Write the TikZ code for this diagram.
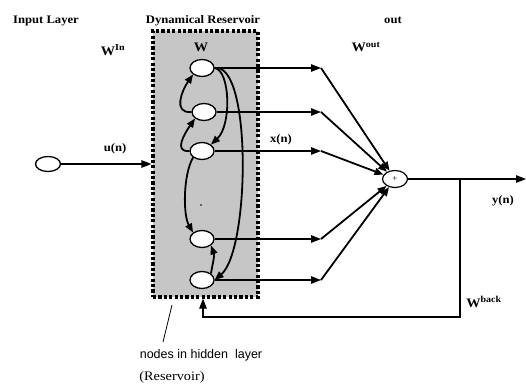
\documentclass[tikz,border=0pt]{standalone}
\usepackage{fontspec}
\setmainfont{Liberation Serif}
\newfontfamily\labfont[FakeStretch=1.1]{Liberation Serif}
\newfontfamily\sansfont{Liberation Sans}
\usetikzlibrary{arrows.meta,shapes.geometric}
\tikzset{
  lab/.style={font=\labfont\fontsize{11.5}{13}\selectfont\bfseries, inner sep=0pt},
  wlab/.style={font=\labfont\fontsize{13}{14}\selectfont\bfseries, inner sep=0pt},
  reservoirbox/.style={draw=black, fill=gray!45, line width=3.2pt, dash pattern=on 3.2pt off 2.2pt, minimum width=105pt, minimum height=266pt, inner sep=0pt},
  rnode/.style={ellipse, draw=black, fill=white, line width=1.3pt, minimum width=24pt, minimum height=17pt, inner sep=0pt},
  arr/.style={-{Triangle[length=10pt,width=7.5pt]}, line width=1.2pt},
  carr/.style={-{Triangle[length=9pt,width=7pt]}, line width=1.8pt},
  plain/.style={line width=1.2pt}
}
\begin{document}
\begin{tikzpicture}[x=1pt,y=-1pt]
\useasboundingbox (0,0) rectangle (526,383);
% reservoir box
\node[reservoirbox] (box) at (205.5,164) {};
% reservoir nodes
\node[rnode] (n1) at (202,68) {};
\node[rnode] (n2) at (204,112) {};
\node[rnode] (n3) at (202,151) {};
\node[rnode] (n4) at (202,239) {};
\node[rnode] (n5) at (202,280) {};
\fill (201,205) circle (0.9pt);
% input node
\node[ellipse, draw=black, line width=1.3pt, minimum width=25pt, minimum height=15pt, inner sep=0pt] (in) at (48,164) {};
\draw[arr] (in) -- (in -| box.west);
% output taps
\coordinate (o1) at (321,68);
\coordinate (o2) at (321,112);
\coordinate (o3) at (321,151);
\coordinate (o4) at (321,239);
\coordinate (o5) at (321,280);
\draw[arr] (n1.east) -- (o1);
\draw[arr] (n2.east) -- (o2);
\draw[arr] (n3.east) -- (o3);
\draw[arr] (n4.east) -- (o4);
\draw[arr] (n5.east) -- (o5);
% sum node
\node[ellipse, draw=black, line width=1.2pt, minimum width=25pt, minimum height=17pt, inner sep=0pt, font=\fontsize{9}{9}\selectfont] (sum) at (395,179) {+};
\draw[carr] (o1) -- (sum);
\draw[carr] (o2) -- (sum);
\draw[carr] (o3) -- (sum);
\draw[carr] (o4) -- (sum);
\draw[carr] (o5) -- (sum);
% output and feedback
\coordinate (yout) at (526,179);
\coordinate (br) at (460,179);
\coordinate (fbc) at (203,317);
\draw[arr] (sum) -- (yout);
\draw[arr] (br) |- (fbc) -- (fbc |- box.south);
% internal recurrent connections
\draw[carr] (n2.west) to[out=185,in=235,looseness=1.3] (n1.south west);
\draw[carr] (n3.west) to[out=185,in=235,looseness=1.3] (n2.south west);
\draw[carr] (n1.east) .. controls (230,70) and (232,125) .. (n3.north east);
\draw[carr] (n1.east) .. controls (252,62) and (250,250) .. (n5.east);
\draw[carr] (n3.south west) .. controls (183,175) and (183,215) .. (n4.north west);
\draw[carr] (n5.north east) to[out=80,in=-70] (n4.south east);
% labels
\node[lab] (t1) at (46,21) {Input Layer};
\node[lab] (t2) at (203,21) {Dynamical Reservoir};
\node[lab] (t3) at (393,20) {out};
\node[wlab] (win) at (113,50) {W\textsuperscript{In}};
\node[wlab] (ww) at (201,47) {W};
\node[lab] (un) at (115,149) {u(n)};
\node[lab] (xn) at (281,140) {x(n)};
\node[wlab] (wout) at (366,47) {W\textsuperscript{out}};
\node[lab] (yn) at (503,201) {y(n)};
\node[wlab] (wback) at (484,302) {W\textsuperscript{back}};
\node[font=\sansfont\fontsize{12.5}{14}\selectfont, inner sep=0pt] (hid) at (201,355) {nodes in hidden\ \ layer};
\node[font=\labfont\fontsize{13}{14}\selectfont, inner sep=0pt] (resv) at (172,377) {(Reservoir)};
\coordinate (p1) at (172,305);
\coordinate (p2) at (163,342);
\draw[line width=0.8pt] (p1) -- (p2);
\end{tikzpicture}
\end{document}
